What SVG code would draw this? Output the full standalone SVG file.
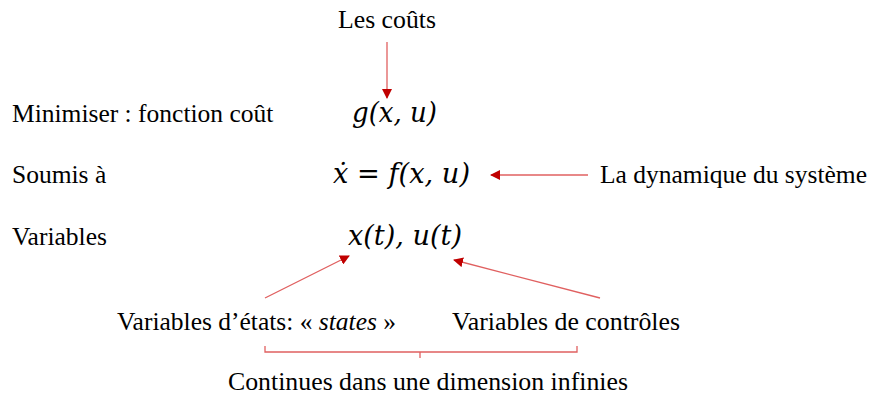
<svg xmlns="http://www.w3.org/2000/svg" width="869" height="396" viewBox="0 0 869 396">
<style>
.t{font-family:"Liberation Serif","Times New Roman",serif;font-size:25.5px;fill:#000}
.m{font-family:"DejaVu Serif","Liberation Serif",serif;font-style:italic;font-size:27px;fill:#000}
.c{stroke:#e06060;stroke-width:1.3;fill:none}
</style>
<defs>
<marker id="ah" viewBox="0 0 10 10" refX="9" refY="5" markerWidth="10" markerHeight="10" markerUnits="userSpaceOnUse" orient="auto">
<path d="M0,0 L10,5 L0,10 z" fill="#c00000"/>
</marker>
</defs>
<rect width="869" height="396" fill="#fff"/>
<g id="labels">
<text class="t" x="12" y="122">Minimiser : fonction coût</text>
<text class="t" x="12" y="183">Soumis à</text>
<text class="t" x="12" y="245">Variables</text>
</g>
<g id="couts"><text class="t" x="338" y="28" textLength="98" lengthAdjust="spacingAndGlyphs">Les coûts</text></g>
<g id="cost"><text class="m" x="352" y="122" textLength="85" lengthAdjust="spacingAndGlyphs">g(x, u)</text></g>
<g id="dyn"><text class="m" x="333" y="183" textLength="137" lengthAdjust="spacingAndGlyphs">ẋ = f(x, u)</text></g>
<g id="dynlabel"><text class="t" x="600" y="183" textLength="267" lengthAdjust="spacingAndGlyphs">La dynamique du système</text></g>
<g id="vars"><text class="m" x="348" y="245" textLength="114" lengthAdjust="spacingAndGlyphs">x(t), u(t)</text></g>
<g id="states"><text class="t" x="117" y="330">Variables d’états: « <tspan font-style="italic">states</tspan> »</text></g>
<g id="controls"><text class="t" x="452" y="330" textLength="228" lengthAdjust="spacingAndGlyphs">Variables de contrôles</text></g>
<g id="continues"><text class="t" x="228" y="390" textLength="400" lengthAdjust="spacingAndGlyphs">Continues dans une dimension infinies</text></g>
<g id="connectors">
<line class="c" x1="387" y1="42" x2="387" y2="98" marker-end="url(#ah)"/>
<line class="c" x1="588" y1="175" x2="491" y2="175" marker-end="url(#ah)"/>
<line class="c" x1="265" y1="298" x2="349" y2="256" marker-end="url(#ah)"/>
<line class="c" x1="600" y1="298" x2="454" y2="260" marker-end="url(#ah)"/>
<path class="c" d="M265,346 V352 H577 V346 M420,352 V358"/>
</g>
</svg>
